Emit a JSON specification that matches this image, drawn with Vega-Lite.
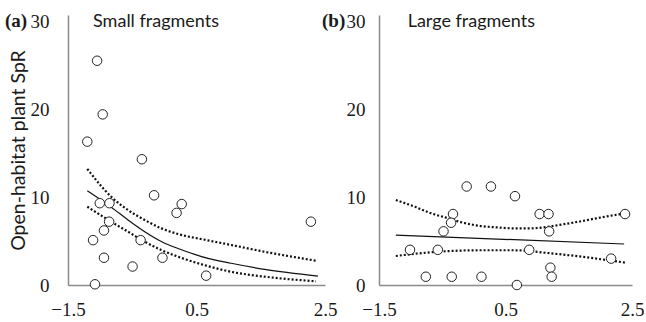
{
  "$schema": "https://vega.github.io/schema/vega-lite/v6.json",
  "background": "white",
  "padding": {"left": 5, "top": 12, "right": 0, "bottom": 0},
  "bounds": "flush",
  "spacing": 54,
  "config": {
    "view": {"stroke": null},
    "axis": {
      "grid": false,
      "ticks": false,
      "domainColor": "#8a8a8a",
      "domainWidth": 1.5,
      "labelFont": "Liberation Serif, Times New Roman, serif",
      "labelFontSize": 19,
      "labelColor": "#1a1a1a",
      "titleFont": "Lato",
      "titleFontSize": 19.5,
      "titleFontWeight": "normal",
      "titleColor": "#1a1a1a"
    }
  },
  "datasets": {
    "pointsA": [
      {"x": -1.047, "y": 25.5}, {"x": -0.96, "y": 19.4}, {"x": -1.2, "y": 16.3},
      {"x": -0.35, "y": 14.3}, {"x": -0.16, "y": 10.2}, {"x": -1.005, "y": 9.3},
      {"x": -0.855, "y": 9.3}, {"x": 0.27, "y": 9.2}, {"x": 0.19, "y": 8.2},
      {"x": -0.86, "y": 7.2}, {"x": -0.94, "y": 6.2}, {"x": -1.11, "y": 5.1},
      {"x": -0.37, "y": 5.1}, {"x": -0.94, "y": 3.1}, {"x": -0.03, "y": 3.1},
      {"x": -0.495, "y": 2.1}, {"x": 0.65, "y": 1.06}, {"x": -1.08, "y": 0.08},
      {"x": 2.28, "y": 7.2}
    ],
    "pointsB": [
      {"x": -0.114, "y": 11.2}, {"x": 0.27, "y": 11.2}, {"x": 0.65, "y": 10.1},
      {"x": -0.33, "y": 8.07}, {"x": 1.04, "y": 8.07}, {"x": 1.18, "y": 8.07},
      {"x": 2.39, "y": 8.07}, {"x": -0.36, "y": 7.08}, {"x": -0.48, "y": 6.1},
      {"x": 1.19, "y": 6.1}, {"x": -1.01, "y": 4.0}, {"x": -0.57, "y": 4.0},
      {"x": 0.875, "y": 4.0}, {"x": 2.17, "y": 3.0}, {"x": 1.21, "y": 1.97},
      {"x": -0.76, "y": 0.94}, {"x": -0.35, "y": 0.94}, {"x": 0.12, "y": 0.94},
      {"x": 1.23, "y": 0.94}, {"x": 0.68, "y": 0}
    ],
    "linesA": [
      {"band": "fit", "x": -1.2, "y": 10.72}, {"band": "fit", "x": -0.826, "y": 8.85},
      {"band": "fit", "x": -0.566, "y": 7.39}, {"band": "fit", "x": -0.306, "y": 6.06},
      {"band": "fit", "x": -0.048, "y": 4.95}, {"band": "fit", "x": 0.212, "y": 4.15},
      {"band": "fit", "x": 0.472, "y": 3.49}, {"band": "fit", "x": 0.679, "y": 3.03},
      {"band": "fit", "x": 1.04, "y": 2.47}, {"band": "fit", "x": 1.56, "y": 1.78},
      {"band": "fit", "x": 2.39, "y": 1.02},
      {"band": "upper", "x": -1.2, "y": 13.2}, {"band": "upper", "x": -0.826, "y": 10.03},
      {"band": "upper", "x": -0.566, "y": 8.52}, {"band": "upper", "x": -0.306, "y": 7.39},
      {"band": "upper", "x": -0.048, "y": 6.44}, {"band": "upper", "x": 0.212, "y": 5.8},
      {"band": "upper", "x": 0.653, "y": 5.11}, {"band": "upper", "x": 1.04, "y": 4.55},
      {"band": "upper", "x": 1.56, "y": 3.78}, {"band": "upper", "x": 2.36, "y": 2.76},
      {"band": "lower", "x": -1.2, "y": 8.9}, {"band": "lower", "x": -0.826, "y": 7.19},
      {"band": "lower", "x": -0.566, "y": 6.06}, {"band": "lower", "x": -0.306, "y": 4.92},
      {"band": "lower", "x": -0.048, "y": 3.98}, {"band": "lower", "x": 0.212, "y": 3.22},
      {"band": "lower", "x": 0.653, "y": 2.2}, {"band": "lower", "x": 1.04, "y": 1.5},
      {"band": "lower", "x": 1.56, "y": 0.95}, {"band": "lower", "x": 2.36, "y": 0.42}
    ],
    "linesB": [
      {"band": "fit", "x": -1.234, "y": 5.68}, {"band": "fit", "x": 2.375, "y": 4.66},
      {"band": "upper", "x": -1.234, "y": 9.66}, {"band": "upper", "x": -0.933, "y": 8.9},
      {"band": "upper", "x": -0.672, "y": 8.14}, {"band": "upper", "x": -0.411, "y": 7.6},
      {"band": "upper", "x": -0.152, "y": 7.05}, {"band": "upper", "x": 0.109, "y": 6.7},
      {"band": "upper", "x": 0.37, "y": 6.55}, {"band": "upper", "x": 0.63, "y": 6.44},
      {"band": "upper", "x": 0.891, "y": 6.44}, {"band": "upper", "x": 1.152, "y": 6.6},
      {"band": "upper", "x": 1.411, "y": 6.9}, {"band": "upper", "x": 1.672, "y": 7.22},
      {"band": "upper", "x": 1.933, "y": 7.58}, {"band": "upper", "x": 2.323, "y": 8.07},
      {"band": "lower", "x": -1.234, "y": 3.3}, {"band": "lower", "x": -0.933, "y": 3.55},
      {"band": "lower", "x": -0.411, "y": 3.85}, {"band": "lower", "x": 0.109, "y": 3.95},
      {"band": "lower", "x": 0.63, "y": 3.95}, {"band": "lower", "x": 0.891, "y": 3.85},
      {"band": "lower", "x": 1.152, "y": 3.65}, {"band": "lower", "x": 1.672, "y": 3.25},
      {"band": "lower", "x": 2.089, "y": 2.85}, {"band": "lower", "x": 2.39, "y": 2.55}
    ]
  },
  "hconcat": [
    {
      "width": 257,
      "height": 270,
      "layer": [
        {
          "data": {"name": "linesA"},
          "transform": [{"filter": "datum.band === 'fit'"}],
          "mark": {"type": "line", "color": "#111", "strokeWidth": 1.2, "interpolate": "monotone"},
          "encoding": {
            "x": {"field": "x", "type": "quantitative", "scale": {"domain": [-1.5, 2.5], "nice": false, "zero": false},
                  "axis": {"values": [-1.5, 0.5, 2.5], "format": ".1f", "labelFlush": false, "labelPadding": 15, "title": null}},
            "y": {"field": "y", "type": "quantitative", "scale": {"domain": [0, 30.7], "nice": false},
                  "axis": {"values": [0, 10, 20, 30], "format": "d", "labelPadding": 19, "title": "Open-habitat plant SpR", "titlePadding": 2}}
          }
        },
        {
          "data": {"name": "linesA"},
          "transform": [{"filter": "datum.band !== 'fit'"}],
          "mark": {"type": "line", "color": "#111", "strokeWidth": 2.2, "strokeDash": [2, 2], "interpolate": "monotone"},
          "encoding": {
            "x": {"field": "x", "type": "quantitative"},
            "y": {"field": "y", "type": "quantitative"},
            "detail": {"field": "band"}
          }
        },
        {
          "data": {"name": "pointsA"},
          "mark": {"type": "point", "shape": "circle", "filled": true, "fill": "white", "stroke": "#222", "strokeWidth": 1, "size": 90, "opacity": 1},
          "encoding": {
            "x": {"field": "x", "type": "quantitative"},
            "y": {"field": "y", "type": "quantitative"}
          }
        },
        {
          "data": {"values": [{}]},
          "mark": {"type": "text", "font": "Lato", "fontSize": 18, "align": "left", "baseline": "alphabetic", "color": "#1a1a1a"},
          "encoding": {
            "x": {"datum": -1.11, "type": "quantitative"},
            "y": {"datum": 29.28, "type": "quantitative"},
            "text": {"value": "Small fragments"}
          }
        },
        {
          "data": {"values": [{}]},
          "mark": {"type": "text", "font": "Liberation Serif, Times New Roman, serif", "fontWeight": "bold", "fontSize": 19, "align": "left", "baseline": "middle", "dx": -63, "color": "#1a1a1a"},
          "encoding": {
            "x": {"datum": -1.5, "type": "quantitative"},
            "y": {"datum": 30, "type": "quantitative"},
            "text": {"value": "(a)"}
          }
        }
      ]
    },
    {
      "width": 253,
      "height": 270,
      "layer": [
        {
          "data": {"name": "linesB"},
          "transform": [{"filter": "datum.band === 'fit'"}],
          "mark": {"type": "line", "color": "#111", "strokeWidth": 1.2, "interpolate": "monotone"},
          "encoding": {
            "x": {"field": "x", "type": "quantitative", "scale": {"domain": [-1.5, 2.5], "nice": false, "zero": false},
                  "axis": {"values": [-1.5, 0.5, 2.5], "format": ".1f", "labelFlush": false, "labelPadding": 15, "title": null}},
            "y": {"field": "y", "type": "quantitative", "scale": {"domain": [0, 30.7], "nice": false},
                  "axis": {"values": [0, 10, 20, 30], "format": "d", "labelPadding": 14, "title": null}}
          }
        },
        {
          "data": {"name": "linesB"},
          "transform": [{"filter": "datum.band !== 'fit'"}],
          "mark": {"type": "line", "color": "#111", "strokeWidth": 2.2, "strokeDash": [2, 2], "interpolate": "monotone"},
          "encoding": {
            "x": {"field": "x", "type": "quantitative"},
            "y": {"field": "y", "type": "quantitative"},
            "detail": {"field": "band"}
          }
        },
        {
          "data": {"name": "pointsB"},
          "mark": {"type": "point", "shape": "circle", "filled": true, "fill": "white", "stroke": "#222", "strokeWidth": 1, "size": 90, "opacity": 1},
          "encoding": {
            "x": {"field": "x", "type": "quantitative"},
            "y": {"field": "y", "type": "quantitative"}
          }
        },
        {
          "data": {"values": [{}]},
          "mark": {"type": "text", "font": "Lato", "fontSize": 18, "align": "left", "baseline": "alphabetic", "color": "#1a1a1a"},
          "encoding": {
            "x": {"datum": -1.047, "type": "quantitative"},
            "y": {"datum": 29.28, "type": "quantitative"},
            "text": {"value": "Large fragments"}
          }
        },
        {
          "data": {"values": [{}]},
          "mark": {"type": "text", "font": "Liberation Serif, Times New Roman, serif", "fontWeight": "bold", "fontSize": 19, "align": "left", "baseline": "middle", "dx": -57, "color": "#1a1a1a"},
          "encoding": {
            "x": {"datum": -1.5, "type": "quantitative"},
            "y": {"datum": 30, "type": "quantitative"},
            "text": {"value": "(b)"}
          }
        }
      ]
    }
  ]
}
